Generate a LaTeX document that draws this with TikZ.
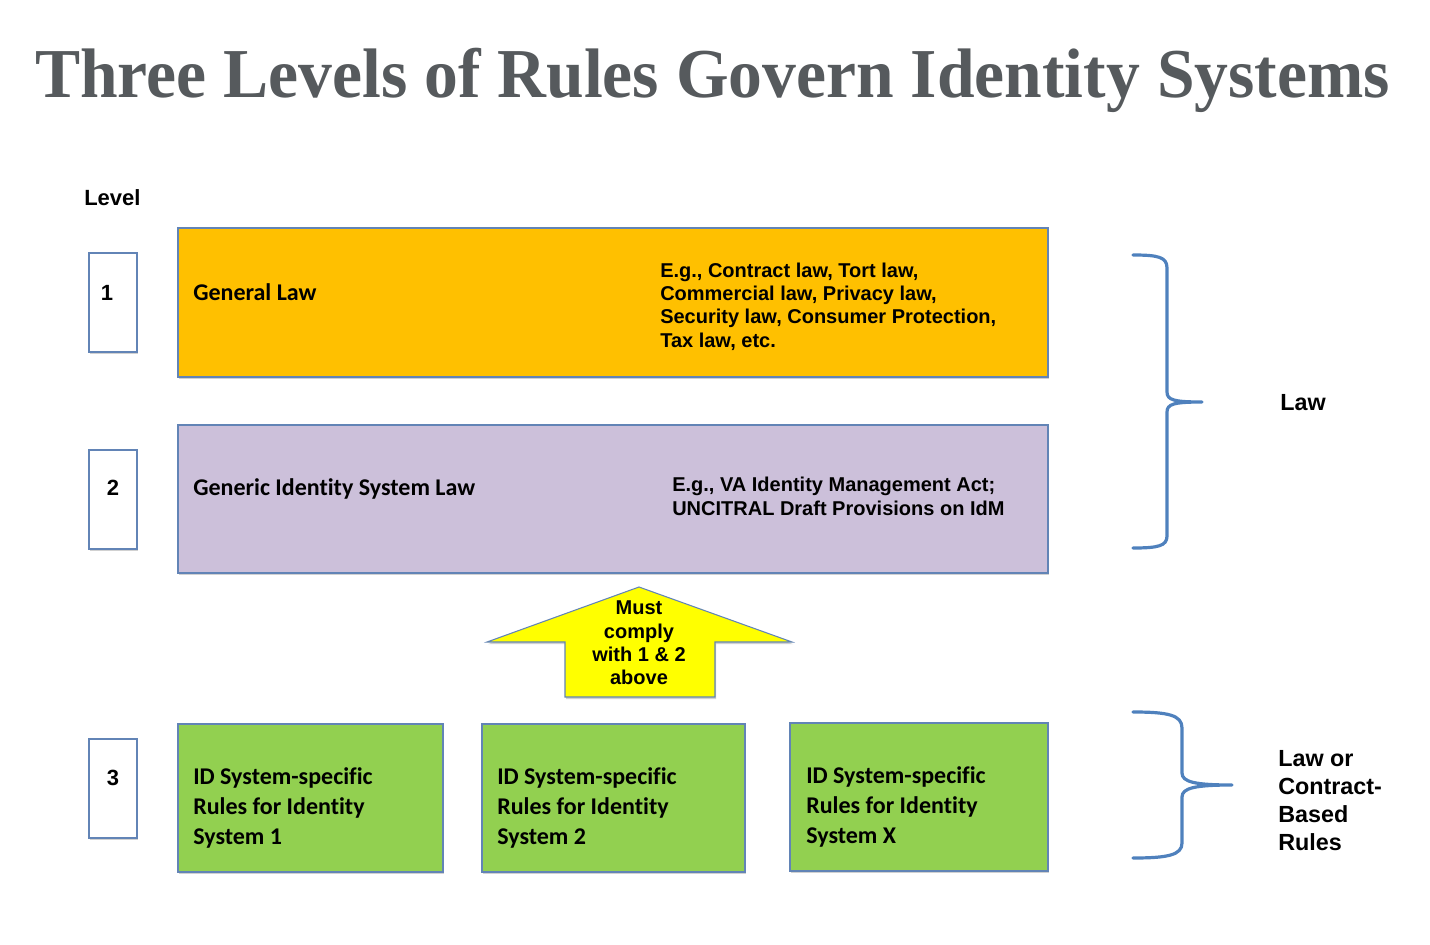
\documentclass[tikz,border=0pt]{standalone}
\usepackage{fontspec}
\setmainfont{Liberation Sans}
\newfontfamily\calfont[Ligatures=NoCommon]{Carlito}
\newfontfamily\titlefont{Liberation Serif}
\usetikzlibrary{fit,shadows}
\definecolor{titlegray}{RGB}{86,90,93}
\definecolor{borderblue}{RGB}{98,132,182}
\definecolor{braceblue}{RGB}{79,129,189}
\definecolor{orangefill}{RGB}{255,192,0}
\definecolor{purplefill}{RGB}{204,192,218}
\definecolor{greenfill}{RGB}{146,208,80}
\definecolor{yellowfill}{RGB}{255,255,0}
\tikzset{
  box/.style={draw=borderblue, line width=0.8pt, inner sep=0pt,
    drop shadow={shadow xshift=0.8pt, shadow yshift=-1.6pt, opacity=0.18, fill=black}},
  numbox/.style={box, fill=white},
  calbold/.style={font=\calfont\bfseries\fontsize{18}{22.5}\selectfont, inner sep=0pt, anchor=west, align=left},
  arialbold/.style={font=\bfseries\fontsize{15}{17.6}\selectfont, inner sep=0pt, anchor=west, align=left},
  sidelabel/.style={font=\bfseries\fontsize{17.5}{21}\selectfont, inner sep=0pt, anchor=west, align=left},
  numlabel/.style={font=\bfseries\fontsize{16.5}{19}\selectfont, inner sep=0pt},
  bracepath/.style={draw=braceblue, line width=2.4pt, line cap=round, line join=round},
}
\begin{document}
\begin{tikzpicture}[x=0.75pt,y=-0.75pt]
\useasboundingbox (0,0) rectangle (1430,945);
% title
\node[anchor=base, inner sep=0pt, text=titlegray] (title) at (712.5,98)
  {\resizebox{1016pt}{37pt}{\titlefont\bfseries Three Levels of Rules Govern Identity Systems}};
\node[sidelabel, font=\bfseries\fontsize{16.5}{20}\selectfont] (level) at (84,198) {Level};
% level number boxes
\node[numbox, fit={(89,253)(137,352)}] (n1) {};
\node[numbox, fit={(89,450)(137,549)}] (n2) {};
\node[numbox, fit={(89,739)(137,838)}] (n3) {};
\node[numlabel] (t1) at (107,293) {1};
\node[numlabel] (t2) at (113,488) {2};
\node[numlabel] (t3) at (113,778) {3};
% level boxes
\node[box, fill=orangefill, fit={(178,228)(1048,377)}] (L1) {};
\node[box, fill=purplefill, fit={(178,425)(1048,573)}] (L2) {};
\node[box, fill=greenfill, fit={(178,724)(443,872)}] (G1) {};
\node[box, fill=greenfill, fit={(482,724)(745,872)}] (G2) {};
\node[box, fill=greenfill, fit={(790,723)(1048,871)}] (G3) {};
% texts
\node[calbold] (gl) at (193,292) {General Law};
\node[arialbold] (eg1) at (660,306.5) {E.g., Contract law, Tort law,\\Commercial law, Privacy law,\\Security law, Consumer Protection,\\Tax law, etc.};
\node[calbold] (gisl) at (193,489) {Generic Identity System Law};
\node[arialbold] (eg2) at (672,496.5) {E.g., VA Identity Management Act;\\UNCITRAL Draft Provisions on IdM};
\node[calbold] (g1t) at (193,808) {ID System-specific\\Rules for Identity\\System 1};
\node[calbold] (g2t) at (497,808) {ID System-specific\\Rules for Identity\\System 2};
\node[calbold] (g3t) at (806,807) {ID System-specific\\Rules for Identity\\System X};
% arrow
\coordinate (atip) at (639,587);
\filldraw[fill=yellowfill, draw=borderblue, line width=0.8pt, line join=miter,
  drop shadow={shadow xshift=0.8pt, shadow yshift=-1.6pt, opacity=0.18, fill=black}]
  (atip) -- (792,642) -- (715,642) -- (715,697) -- (565,697) -- (565,642) -- (487,642) -- cycle;
\node[font=\bfseries\fontsize{15}{17.5}\selectfont, align=center, inner sep=0pt] (must) at (639,643)
  {Must\\comply\\with 1 \& 2\\above};
% braces
\draw[bracepath] (1133,255) .. controls (1158,255) and (1167,257) .. (1167,268)
  -- (1167,392) .. controls (1167,400) and (1174,402) .. (1202,402)
  .. controls (1174,402) and (1167,404) .. (1167,412)
  -- (1167,536) .. controls (1167,546) and (1158,548) .. (1133,548);
\node[sidelabel] (law) at (1280,403) {Law};
\draw[bracepath] (1133,712) .. controls (1168,712) and (1182,715) .. (1182,728)
  -- (1182,773) .. controls (1182,782) and (1195,785) .. (1232,785)
  .. controls (1195,785) and (1182,788) .. (1182,797)
  -- (1182,843) .. controls (1182,855) and (1168,858) .. (1133,858);
\node[sidelabel, font=\bfseries\fontsize{17.5}{21}\selectfont] (lcr) at (1278,801) {Law or\\Contract-\\Based\\Rules};
\end{tikzpicture}
\end{document}
